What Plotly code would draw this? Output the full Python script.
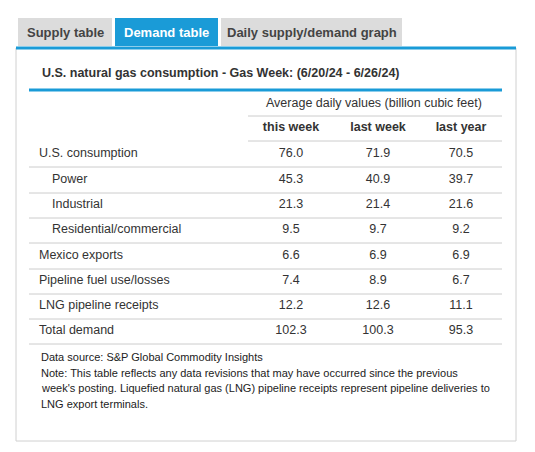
import plotly.graph_objects as go

# table data
row_labels = ["U.S. consumption", "Power", "Industrial", "Residential/commercial",
              "Mexico exports", "Pipeline fuel use/losses", "LNG pipeline receipts",
              "Total demand"]
indented = [False, True, True, True, False, False, False, False]
this_week = [76.0, 45.3, 21.3, 9.5, 6.6, 7.4, 12.2, 102.3]
last_week = [71.9, 40.9, 21.4, 9.7, 6.9, 8.9, 12.6, 100.3]
last_year = [70.5, 39.7, 21.6, 9.2, 6.9, 6.7, 11.1, 95.3]
col_headers = ["this week", "last week", "last year"]
tab_labels = ["Supply table", "Demand table", "Daily supply/demand graph"]

title = "U.S. natural gas consumption - Gas Week: (6/20/24 - 6/26/24)"
units = "Average daily values (billion cubic feet)"
notes = ["Data source: S&P Global Commodity Insights",
         "Note: This table reflects any data revisions that may have occurred since the previous",
         "week's posting. Liquefied natural gas (LNG) pipeline receipts represent pipeline deliveries to",
         "LNG export terminals."]

TXT = "#333333"
BLUE = "#1a9bd7"
GRID = "#cccccc"

fig = go.Figure()

# tabs
tab_x = [(18, 112), (115, 218), (221, 402)]
for (x0, x1), lab in zip(tab_x, tab_labels):
    active = lab == "Demand table"
    fig.add_shape(type="rect", x0=x0, x1=x1, y0=18, y1=46, line_width=0,
                  fillcolor=BLUE if active else "#dcdcdc", layer="below")
    fig.add_annotation(x=(x0 + x1) / 2, y=32, text="<b>" + lab + "</b>", showarrow=False,
                       font=dict(size=13, color="white" if active else "#444444"))

# panel
fig.add_shape(type="rect", x0=16, x1=516, y0=48, y1=441,
              line=dict(color="#d0d0d0", width=1), layer="below")
fig.add_shape(type="line", x0=16, x1=516, y0=48, y1=48, line=dict(color=BLUE, width=3))

fig.add_annotation(x=40, y=73, text="<b>" + title + "</b>", showarrow=False,
                   xanchor="left", font=dict(size=12.5, color=TXT))
fig.add_shape(type="line", x0=29, x1=502, y0=90, y1=90, line=dict(color=BLUE, width=3))

fig.add_annotation(x=374, y=103, text=units, showarrow=False, font=dict(size=12.5, color=TXT))
fig.add_shape(type="line", x0=248, x1=502, y0=116, y1=116, line=dict(color=GRID, width=1))

col_x = [291, 378, 461]
fig.add_trace(go.Scatter(x=col_x, y=[128] * 3, mode="text",
                         text=["<b>" + h + "</b>" for h in col_headers],
                         textfont=dict(size=12.5, color=TXT), hoverinfo="skip"))
fig.add_shape(type="line", x0=248, x1=502, y0=141, y1=141, line=dict(color=GRID, width=1))

row_y = [154, 180, 205, 230, 256, 281, 306, 331]
fig.add_trace(go.Scatter(x=[52 if ind else 39 for ind in indented], y=row_y, mode="text",
                         text=row_labels, textposition="middle right",
                         textfont=dict(size=12.5, color=TXT), hoverinfo="skip"))
for cx, vals in zip(col_x, [this_week, last_week, last_year]):
    fig.add_trace(go.Scatter(x=[cx] * len(vals), y=row_y, mode="text",
                             text=[f"{v:.1f}" for v in vals],
                             textfont=dict(size=12.5, color=TXT), hoverinfo="skip"))
for y in row_y:
    fig.add_shape(type="line", x0=29, x1=502, y0=y + 13, y1=y + 13,
                  line=dict(color=GRID, width=1))

for i, line in enumerate(notes):
    fig.add_annotation(x=39, y=357 + i * 15.5, text=line, showarrow=False,
                       xanchor="left", font=dict(size=11, color="#222222"))

# page body has an 8px margin, so shift the coordinate frame to compensate
fig.update_xaxes(range=[8, 543], visible=False, fixedrange=True)
fig.update_yaxes(range=[460, 8], visible=False, fixedrange=True)
fig.update_layout(width=535, height=452, margin=dict(l=0, r=0, t=0, b=0),
                  showlegend=False, plot_bgcolor="white", paper_bgcolor="white",
                  font_family="Liberation Sans")

fig.write_html("out.html")
